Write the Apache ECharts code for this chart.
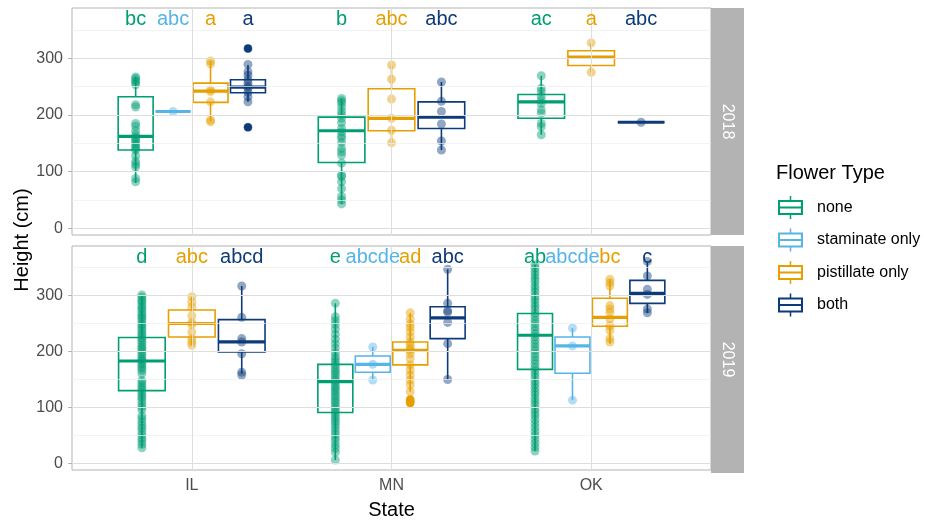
<!DOCTYPE html>
<html><head><meta charset="utf-8">
<script src="https://cdn.jsdelivr.net/npm/echarts@6/dist/echarts.min.js"></script>
<style>html,body{margin:0;padding:0;background:#fff}#c{width:925px;height:521px}</style>
</head><body><div id="c"></div>
<script>
const states = ['IL', 'MN', 'OK'];
const types = ['none', 'staminate only', 'pistillate only', 'both'];
const years = ['2018', '2019'];
const colors = ['#009E73', '#56B4E9', '#E69F00', '#0D3B7A'];
const yTicks = [0, 100, 200, 300];
const yMinor = [50, 150, 250, 350];
const letterY = 368;

// box stats [low whisker, Q1, median, Q3, high whisker] per state, per flower type (null = absent)
const stats2018 = [
  [[80, 138, 162, 232, 267], [206, 206, 206, 206, 206], [189, 222, 242, 256, 295], [223, 239, 249, 262, 288]],
  [[43, 116, 172, 196, 229], null, [151, 172, 194, 246, 288], [138, 176, 196, 223, 258]],
  [[165, 194, 223, 236, 269], null, [275, 287, 302, 313, 327], [187, 187, 187, 187, 187]]
];
const stats2019 = [
  [[28, 130, 183, 225, 301], null, [211, 226, 250, 274, 298], [160, 199, 217, 257, 317]],
  [[6, 91, 146, 177, 286], [149, 163, 177, 192, 208], [128, 176, 202, 217, 269], [150, 223, 260, 280, 347]],
  [[22, 168, 229, 268, 355], [113, 161, 210, 226, 242], [214, 245, 261, 295, 329], [269, 286, 304, 327, 361]]
];

// individual observations
const points2018 = [
  [[267, 264, 260, 257, 253, 218, 214, 185, 180, 172, 165, 160, 157, 153, 149, 145, 141, 138, 128, 118, 113, 108, 88, 82],
   [206],
   [295, 290, 244, 241, 223, 191, 188],
   [317, 289, 276, 270, 262, 256, 250, 247, 240, 232, 223, 178]],
  [[229, 225, 221, 214, 206, 200, 194, 186, 176, 170, 163, 159, 151, 141, 135, 129, 115, 94, 91, 82, 70, 56, 50, 43],
   [],
   [288, 263, 228, 194, 173, 151],
   [258, 224, 206, 184, 154, 138]],
  [[269, 247, 241, 233, 226, 220, 209, 203, 185, 179, 165],
   [],
   [327, 275],
   [187]]
];
const points2019 = [
  [[301, 297, 292, 289, 284, 279, 276, 271, 266, 262, 259, 254, 249, 246, 241, 237, 232, 229, 224, 220, 216, 211, 207, 204, 199, 195, 190, 186, 183, 178, 174, 170, 166, 160, 148, 144, 139, 135, 131, 126, 121, 117, 112, 106, 101, 96, 85, 80, 74, 68, 63, 57, 51, 45, 40, 34, 28],
   [],
   [298, 288, 279, 264, 252, 248, 235, 223, 217, 211],
   [317, 261, 223, 217, 196, 163, 158]],
  [[286, 262, 255, 248, 240, 231, 222, 214, 206, 198, 191, 186, 181, 176, 171, 166, 162, 157, 152, 148, 144, 139, 135, 131, 127, 122, 118, 113, 109, 104, 99, 95, 90, 85, 80, 75, 70, 64, 58, 52, 46, 40, 33, 27, 20, 6],
   [208, 177, 149],
   [269, 258, 249, 243, 235, 226, 217, 211, 205, 202, 196, 187, 176, 167, 158, 149, 140, 128, 114, 111, 108],
   [347, 286, 273, 270, 252, 214, 150]],
  [[355, 349, 343, 337, 331, 325, 318, 312, 306, 299, 293, 287, 281, 275, 268, 262, 256, 250, 244, 238, 232, 226, 220, 214, 208, 202, 196, 190, 184, 178, 172, 166, 160, 154, 147, 141, 135, 129, 123, 116, 110, 104, 97, 91, 85, 78, 71, 64, 57, 50, 43, 36, 29, 22],
   [242, 210, 113],
   [329, 323, 317, 282, 276, 270, 258, 246, 238, 223, 217],
   [361, 335, 311, 302, 276, 269]]
];
// boxplot outliers (drawn solid)
const outliers2018 = [[[], [], [], [317, 178]], [[], [], [], []], [[], [], [], []]];
const outliers2019 = [[[], [], [], []], [[], [], [114, 111, 108], []], [[], [], [], []]];

// significance letters
const letters2018 = [['bc', 'abc', 'a', 'a'], ['b', null, 'abc', 'abc'], ['ac', null, 'a', 'abc']];
const letters2019 = [['d', null, 'abc', 'abcd'], ['e', 'abcde', 'ad', 'abc'], ['ab', 'abcde', 'bc', 'c']];

const statsByYear = [stats2018, stats2019];
const pointsByYear = [points2018, points2019];
const outliersByYear = [outliers2018, outliers2019];
const lettersByYear = [letters2018, letters2019];

const FONT = '"Liberation Sans", Arial, Helvetica, sans-serif';
const DODGE = 0.75, BOXW = 0.7;

function dodgeX(stats, s, t) {
  const present = [];
  stats[s].forEach((v, i) => { if (v) present.push(i); });
  const n = present.length, k = present.indexOf(t);
  return { x: s + 1 + (k - (n - 1) / 2) * DODGE / n, hw: BOXW / n / 2 };
}

function renderBox(params, api) {
  const x = api.value(0), hw = api.value(6);
  const lo = api.value(1), q1 = api.value(2), md = api.value(3), q3 = api.value(4), hi = api.value(5);
  const pTL = api.coord([x - hw, q3]), pBR = api.coord([x + hw, q1]);
  const c = api.coord([x, md]), top = api.coord([x, hi]), bot = api.coord([x, lo]);
  const color = api.visual('color');
  return { type: 'group', children: [
    { type: 'line', shape: { x1: c[0], y1: top[1], x2: c[0], y2: pTL[1] }, style: { stroke: color, lineWidth: 1.6 } },
    { type: 'line', shape: { x1: c[0], y1: pBR[1], x2: c[0], y2: bot[1] }, style: { stroke: color, lineWidth: 1.6 } },
    { type: 'rect', shape: { x: pTL[0], y: pTL[1], width: pBR[0] - pTL[0], height: pBR[1] - pTL[1] }, style: { fill: 'rgba(0,0,0,0)', stroke: color, lineWidth: 1.6 } },
    { type: 'line', shape: { x1: pTL[0], y1: c[1], x2: pBR[0], y2: c[1] }, style: { stroke: color, lineWidth: 3.2 } }
  ] };
}

function renderLetter(params, api) {
  const p = api.coord([api.value(0), api.value(1)]);
  return { type: 'text', x: p[0], y: p[1], style: {
    text: api.value(2), fill: colors[api.value(3)], fontSize: 20, fontFamily: FONT,
    align: 'center', verticalAlign: 'middle' } };
}

const grids = [
  { left: 72, top: 8, width: 639, height: 227, show: true, borderColor: '#B3B3B3', borderWidth: 1 },
  { left: 72, top: 246, width: 639, height: 227, show: true, borderColor: '#B3B3B3', borderWidth: 1 }
];
const xAxes = [0, 1].map(i => ({
  type: 'value', gridIndex: i, min: 0.4, max: 3.6,
  splitLine: { show: false }, axisLine: { show: false },
  axisTick: { show: i === 1, customValues: [1, 2, 3], length: 4, lineStyle: { color: '#B3B3B3' } },
  axisLabel: { show: i === 1, customValues: [1, 2, 3], formatter: v => states[Math.round(v) - 1] || '',
    fontSize: 16, color: '#4D4D4D', margin: 8, fontFamily: FONT },
  name: i === 1 ? 'State' : '', nameLocation: 'middle', nameGap: 30,
  nameTextStyle: { fontSize: 20, color: '#000', fontFamily: FONT }
}));
const yAxes = [0, 1].map(i => ({
  type: 'value', gridIndex: i, min: -11.8, max: 388.5,
  splitLine: { show: false }, axisLine: { show: false },
  axisTick: { show: true, customValues: yTicks, length: 4, lineStyle: { color: '#B3B3B3' } },
  axisLabel: { customValues: yTicks, fontSize: 16, color: '#4D4D4D', margin: 9, fontFamily: FONT }
}));

const series = [];
[0, 1].forEach(g => {
  const major = { color: '#DEDEDE', width: 1, type: 'solid' };
  const minor = { color: '#EEEEEE', width: 0.7, type: 'solid' };
  series.push({
    type: 'scatter', xAxisIndex: g, yAxisIndex: g, data: [], z: 1, silent: true,
    markLine: { silent: true, symbol: 'none', label: { show: false }, animation: false,
      data: [
        ...yMinor.map(v => ({ yAxis: v, lineStyle: minor })),
        ...yTicks.map(v => ({ yAxis: v, lineStyle: major })),
        ...states.map((s, i) => ({ xAxis: i + 1, lineStyle: major }))
      ] }
  });
  const stats = statsByYear[g];
  types.forEach((t, ti) => {
    const boxData = [], ptData = [], outData = [];
    states.forEach((s, si) => {
      const st = stats[si][ti];
      if (!st) return;
      const d = dodgeX(stats, si, ti);
      boxData.push([d.x, ...st, d.hw]);
      pointsByYear[g][si][ti].forEach(v => ptData.push([d.x, v]));
      outliersByYear[g][si][ti].forEach(v => outData.push([d.x, v]));
    });
    series.push({ type: 'custom', name: t, xAxisIndex: g, yAxisIndex: g, z: 2, silent: true,
      itemStyle: { color: colors[ti] }, renderItem: renderBox, data: boxData,
      encode: { x: 0, y: [1, 5] } });
    series.push({ type: 'scatter', name: t, xAxisIndex: g, yAxisIndex: g, z: 3, silent: true,
      symbolSize: 8, itemStyle: { color: colors[ti], opacity: 1 }, data: outData });
    series.push({ type: 'scatter', name: t, xAxisIndex: g, yAxisIndex: g, z: 4, silent: true,
      symbolSize: 9, itemStyle: { color: colors[ti], opacity: 0.45 }, data: ptData });
  });
  const letData = [];
  states.forEach((s, si) => {
    types.forEach((t, ti) => {
      const L = lettersByYear[g][si][ti];
      if (L) { const d = dodgeX(stats, si, ti); letData.push([d.x, letterY, L, ti]); }
    });
  });
  series.push({ type: 'custom', xAxisIndex: g, yAxisIndex: g, z: 5, silent: true,
    renderItem: renderLetter, data: letData, encode: { x: 0, y: 1 } });
});

const icon = 'path://M0,4L25,4L25,19L0,19Z M2,6L2,17L23,17L23,6Z M0,10.5L25,10.5L25,12.5L0,12.5Z M11.75,0L13.25,0L13.25,4L11.75,4Z M11.75,19L13.25,19L13.25,23L11.75,23Z';

const option = {
  animation: false,
  backgroundColor: '#ffffff',
  grid: grids, xAxis: xAxes, yAxis: yAxes, series: series,
  title: { text: 'Flower Type', left: 771, top: 158,
    textStyle: { fontSize: 20, fontWeight: 'normal', color: '#000', fontFamily: FONT } },
  legend: { orient: 'vertical', left: 773, top: 191, itemWidth: 25, itemHeight: 23, itemGap: 9.5,
    selectedMode: false,
    textStyle: { fontSize: 16, color: '#000', fontFamily: FONT, padding: [0, 0, 0, 9] },
    data: types.map(t => ({ name: t, icon: icon })) },
  graphic: [
    { type: 'rect', left: 711, top: 8, shape: { width: 33, height: 227 }, style: { fill: '#B3B3B3' }, silent: true },
    { type: 'rect', left: 711, top: 246, shape: { width: 33, height: 227 }, style: { fill: '#B3B3B3' }, silent: true },
    { type: 'text', x: 727.5, y: 121.5, rotation: -Math.PI / 2, silent: true,
      style: { text: years[0], fill: '#fff', fontSize: 16, fontFamily: FONT, align: 'center', verticalAlign: 'middle' } },
    { type: 'text', x: 727.5, y: 359.5, rotation: -Math.PI / 2, silent: true,
      style: { text: years[1], fill: '#fff', fontSize: 16, fontFamily: FONT, align: 'center', verticalAlign: 'middle' } },
    { type: 'text', x: 22, y: 240, rotation: Math.PI / 2, silent: true,
      style: { text: 'Height (cm)', fill: '#000', fontSize: 20, fontFamily: FONT, align: 'center', verticalAlign: 'middle' } }
  ]
};
const chart = echarts.init(document.getElementById('c'), null, { renderer: 'canvas' });
chart.setOption(option);
</script>
</body></html>
